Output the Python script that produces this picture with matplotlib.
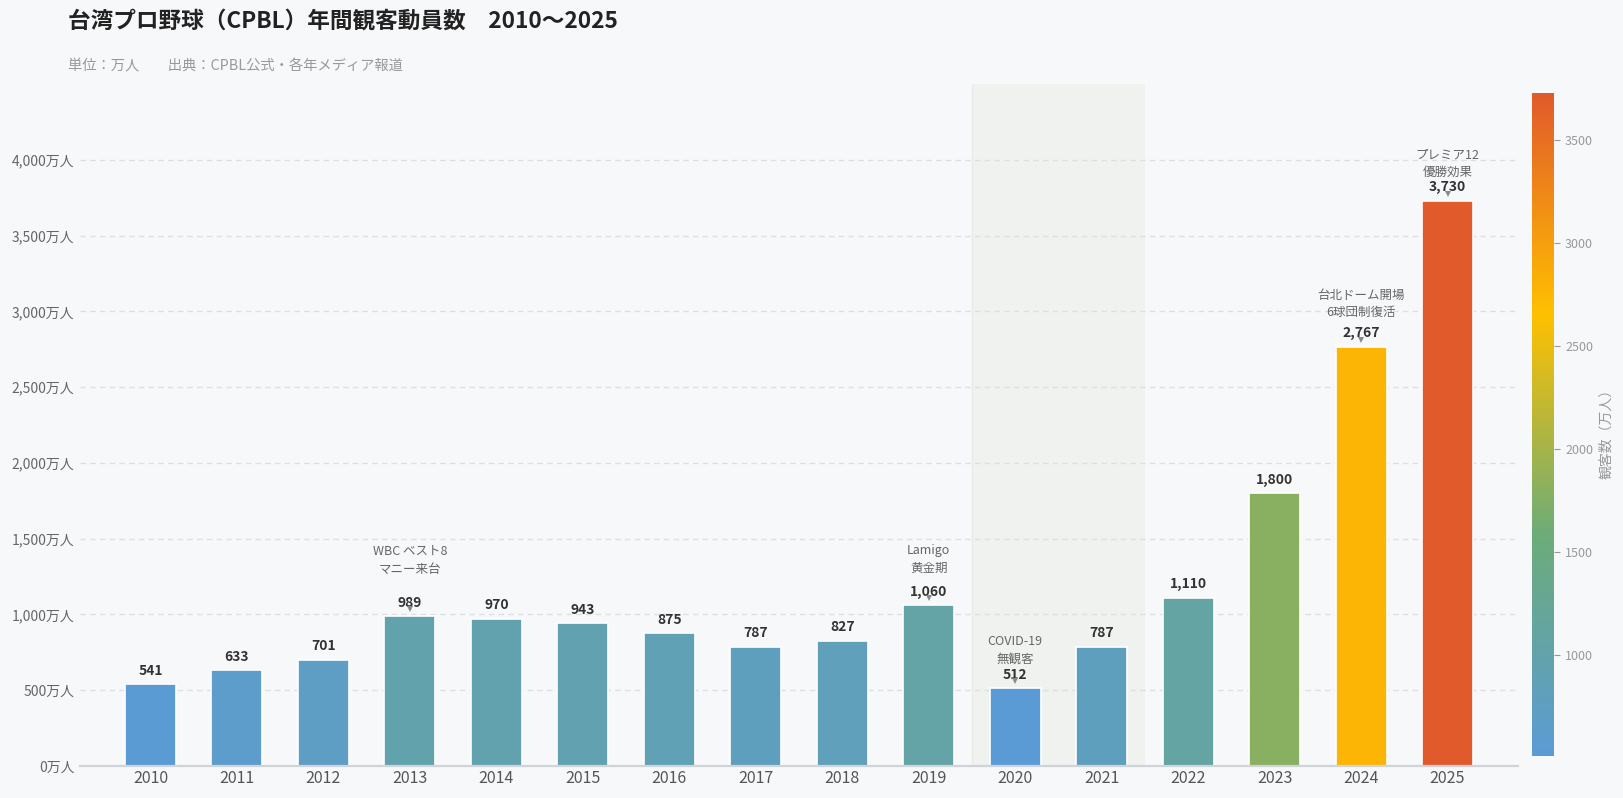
import matplotlib
matplotlib.use("Agg")
import matplotlib.pyplot as plt
import matplotlib.transforms as mtransforms
import numpy as np
from matplotlib.colors import LinearSegmentedColormap, Normalize
from matplotlib.cm import ScalarMappable

plt.rcParams['font.family'] = ['Noto Sans CJK JP', 'DejaVu Sans']

# ---- data ----
years = ['2010', '2011', '2012', '2013', '2014', '2015', '2016', '2017',
         '2018', '2019', '2020', '2021', '2022', '2023', '2024', '2025']
attendance = [541, 633, 701, 989, 970, 943, 875, 787, 827, 1060, 512, 787,
              1110, 1800, 2767, 3730]
notes = {
    '2013': ['WBC ベスト8', 'マニー来台'],
    '2019': ['Lamigo', '黄金期'],
    '2020': ['COVID-19', '無観客'],
    '2024': ['台北ドーム開場', '6球団制復活'],
    '2025': ['プレミア12', '優勝効果'],
}
yticks = [0, 500, 1000, 1500, 2000, 2500, 3000, 3500, 4000]
cbar_ticks = [1000, 1500, 2000, 2500, 3000, 3500]
title = '台湾プロ野球（CPBL）年間観客動員数　2010〜2025'
subtitle = '単位：万人　　出典：CPBL公式・各年メディア報道'

# ---- style / layout ----
W, H, DPI = 1624, 798, 100
BG = '#F7F8FA'
PT = 72.0 / DPI  # points per pixel
note_offset_px = {'2013': 47, '2019': 37, '2020': 29, '2024': 34, '2025': 28}

cmap = LinearSegmentedColormap.from_list(
    'vm', ['#5B9BD5', '#6CAC78', '#FFC000', '#E15A2B'])
norm = Normalize(vmin=min(attendance), vmax=max(attendance))

fig = plt.figure(figsize=(W / DPI, H / DPI), dpi=DPI, facecolor=BG)
ax = fig.add_axes([80 / W, 1 - 766 / H, (1518 - 80) / W, (766 - 84) / H])
ax.set_facecolor(BG)

x = np.arange(len(years))
ax.set_xlim(-0.815, len(years) - 1 + 0.815)
ax.set_ylim(0, 4500)

# COVID shaded band (2020-2021)
i20 = years.index('2020')
ax.axvspan(i20 - 0.5, i20 + 1.5, color='#F0F2F0', zorder=0, lw=0)
ax.axvline(i20 - 0.5, color='#E8EBE8', lw=1.0, zorder=0.1)

# grid
for v in yticks[1:]:
    ax.axhline(v, color='#DCDFE4', lw=1, ls=(0, (4, 3)), zorder=0.5)

colors = [cmap(norm(v)) for v in attendance]
ax.bar(x, attendance, width=0.59, color=colors, edgecolor='white',
       linewidth=1.2, zorder=2)

marker_shift = mtransforms.ScaledTranslation(0, 7 / DPI, fig.dpi_scale_trans)
for xi, yr, v in zip(x, years, attendance):
    ax.annotate(f'{v:,}', (xi, v), xytext=(0, 13.5 * PT),
                textcoords='offset points', ha='center', va='center',
                fontsize=10, fontweight='bold', color='#333333', zorder=4)
    if yr in notes:
        ax.plot([xi], [v], marker='v', markersize=5, color='#8A8A8A',
                markeredgewidth=0, zorder=5,
                transform=ax.transData + marker_shift)
        lines = notes[yr]
        off = note_offset_px[yr]
        for k, line in enumerate(reversed(lines)):
            ax.annotate(line, (xi, v), xytext=(0, (off + k * 17.5) * PT),
                        textcoords='offset points', ha='center', va='center',
                        fontsize=9, color='#666666', zorder=4)

ax.set_xticks(x)
ax.set_xticklabels(years, fontsize=11.5, color='#555555')
ax.set_yticks(yticks)
ax.set_yticklabels([f'{v:,}万人' for v in yticks], fontsize=10,
                   color='#666666')
ax.tick_params(axis='x', length=0, pad=3)
ax.tick_params(axis='y', length=0, pad=4)
for s in ['top', 'right', 'left']:
    ax.spines[s].set_visible(False)
ax.spines['bottom'].set_color('#D0D3D8')
ax.spines['bottom'].set_linewidth(1.6)
ax.spines['bottom'].set_zorder(3)

# colorbar
cax = fig.add_axes([1532 / W, 1 - 756 / H, 22 / W, (756 - 93) / H])
sm = ScalarMappable(norm=norm, cmap=cmap)
cb = fig.colorbar(sm, cax=cax, ticks=cbar_ticks)
cb.outline.set_visible(False)
cax.tick_params(labelsize=9, colors='#999999', length=4, width=0.8,
                pad=4)
for t in cax.get_yticklabels():
    t.set_color('#999999')
fig.text(1606 / W, 1 - 430 / H, '観客数（万人）', rotation=90,
         ha='center', va='center', fontsize=10, color='#999999')

fig.text(68 / W, 1 - 21 / H, title, ha='left', va='center', fontsize=16.3,
         fontweight='bold', color='#222222')
fig.text(68 / W, 1 - 66 / H, subtitle, ha='left', va='center', fontsize=10.3,
         color='#999999')

fig.savefig('out.png', dpi=DPI, facecolor=BG)
